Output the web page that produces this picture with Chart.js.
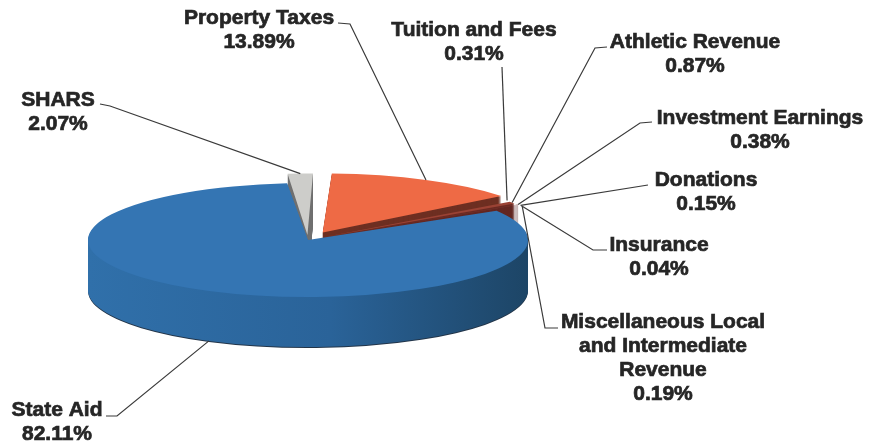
<!DOCTYPE html>
<html>
<head>
<meta charset="utf-8">
<script src="https://cdn.jsdelivr.net/npm/chart.js@4.4.0/dist/chart.umd.min.js"></script>
<style>
  html, body { margin: 0; padding: 0; background: #fff; }
  #wrap { width: 871px; height: 444px; }
</style>
</head>
<body>
<div id="wrap"><canvas id="pie" width="871" height="444"></canvas></div>
<script>
// revenue sources, clockwise from 12 o'clock
const categories = ['Property Taxes', 'Tuition and Fees', 'Athletic Revenue', 'Investment Earnings',
  'Donations', 'Insurance', 'Miscellaneous Local and Intermediate Revenue', 'State Aid', 'SHARS'];
const shares = [13.89, 0.31, 0.87, 0.38, 0.15, 0.04, 0.19, 82.11, 2.07];
const nameLines = [['Property Taxes'], ['Tuition and Fees'], ['Athletic Revenue'], ['Investment Earnings'],
  ['Donations'], ['Insurance'], ['Miscellaneous Local', 'and Intermediate', 'Revenue'], ['State Aid'], ['SHARS']];

const topColors = ['#ee6a45', '#d6cf45', '#9a4234', '#7a3430', '#b4523f', '#4a4a4a', '#8a302b', '#3475b3', '#cdcdca'];
const sideColors = ['#6e2f22', '#7d7722', '#6a2a22', '#552222', '#7a3428', '#333333', '#5e2020', '#2a6399', '#707070'];
const explode = [100, 48, 48, 48, 48, 48, 48, 0, 60];

// where the flat pie gets squeezed to on screen
const CX = 308, CY = 240, RX = 220, RY = 57, DEPTH = 50;

// label centre (first line) and leader bends [elbow, tick end]
const labelAt = [[259, 18], [474, 30], [695, 42], [760, 118], [706, 180], [659, 245], [663, 322], [57, 410], [58, 100]];
const leaderBend = [
  [[350, 24], [338, 23]],
  [[502, 67], [502, 67]],
  [[595, 48], [607, 47]],
  [[640, 123], [652, 122]],
  [[648, 185], [648, 185]],
  [[593, 250], [607, 250]],
  [[545, 328], [558, 328]],
  [[117, 416], [106, 416]],
  [[110, 106], [100, 104]]
];

function paintSide(ctx, el, color) {
  ctx.fill = function () {
    this.fillStyle = color;
    CanvasRenderingContext2D.prototype.fill.apply(this, arguments);
  };
  ctx.stroke = function () {};
  el.draw(ctx);
  delete ctx.fill;
  delete ctx.stroke;
}

// rim point of a slice, same offset maths as the arc element
function rimPoint(el) {
  const a = (el.startAngle + el.endAngle) / 2;
  const circ = el.endAngle - el.startAngle;
  const off = (el.options.offset || 0) / 4;
  const fix = 1 - Math.sin(Math.min(Math.PI, circ));
  const r = off + el.outerRadius + off * fix;
  const k = 1 / el.outerRadius;
  let y = CY + Math.sin(a) * r * k * RY;
  if (Math.sin(a) > 0.5) y += DEPTH;
  return { x: CX + Math.cos(a) * r * k * RX, y: y };
}

const pie3d = {
  id: 'pie3d',
  beforeDatasetsDraw(chart) {
    const ctx = chart.ctx;
    const arcs = chart.getDatasetMeta(0).data;
    const el0 = arcs[0];
    const R = el0.outerRadius;
    const sx = RX / R, sy = RY / R;
    const grad = ctx.createLinearGradient(el0.x - R, 0, el0.x + R, 0);
    grad.addColorStop(0, '#3070aa');
    grad.addColorStop(0.55, '#2a6399');
    grad.addColorStop(1, '#1d4566');
    for (let d = DEPTH + 1; d >= 1; d--) {
      ctx.save();
      ctx.translate(CX, CY + d);
      ctx.scale(sx, sy);
      ctx.translate(-el0.x, -el0.y);
      arcs.forEach((el, i) => {
        let c = sideColors[i];
        if (i === 7) c = grad;
        if (d > DEPTH) c = '#223448';
        paintSide(ctx, el, c);
      });
      ctx.restore();
    }
    ctx.save();
    ctx.translate(CX, CY);
    ctx.scale(sx, sy);
    ctx.translate(-el0.x, -el0.y);
  },
  afterDatasetsDraw(chart) {
    const ctx = chart.ctx;
    ctx.restore();
    const arcs = chart.getDatasetMeta(0).data;
    ctx.save();
    ctx.strokeStyle = '#3a3a3a';
    ctx.lineWidth = 1.2;
    arcs.forEach((el, i) => {
      const p = rimPoint(el);
      const bend = leaderBend[i][0], tip = leaderBend[i][1];
      ctx.beginPath();
      ctx.moveTo(p.x, p.y);
      ctx.lineTo(bend[0], bend[1]);
      ctx.lineTo(tip[0], tip[1]);
      ctx.stroke();
    });
    ctx.fillStyle = '#262626';
    ctx.strokeStyle = '#262626';
    ctx.lineWidth = 0.7;
    ctx.font = 'bold 21px "Liberation Sans", Arial, sans-serif';
    ctx.textAlign = 'center';
    ctx.textBaseline = 'middle';
    arcs.forEach((el, i) => {
      const lines = nameLines[i].concat(shares[i].toFixed(2) + '%');
      lines.forEach((t, j) => {
        ctx.fillText(t, labelAt[i][0], labelAt[i][1] + j * 24);
        ctx.strokeText(t, labelAt[i][0], labelAt[i][1] + j * 24);
      });
    });
    ctx.restore();
  }
};

new Chart(document.getElementById('pie'), {
  type: 'pie',
  data: {
    labels: categories,
    datasets: [{
      data: shares,
      backgroundColor: topColors,
      borderWidth: 0,
      offset: explode,
      clip: false
    }]
  },
  options: {
    responsive: false,
    animation: false,
    rotation: 2,
    events: [],
    layout: { padding: { left: 0, right: 431, top: 2, bottom: 2 } },
    plugins: { legend: { display: false }, tooltip: { enabled: false } }
  },
  plugins: [pie3d]
});
</script>
</body>
</html>
